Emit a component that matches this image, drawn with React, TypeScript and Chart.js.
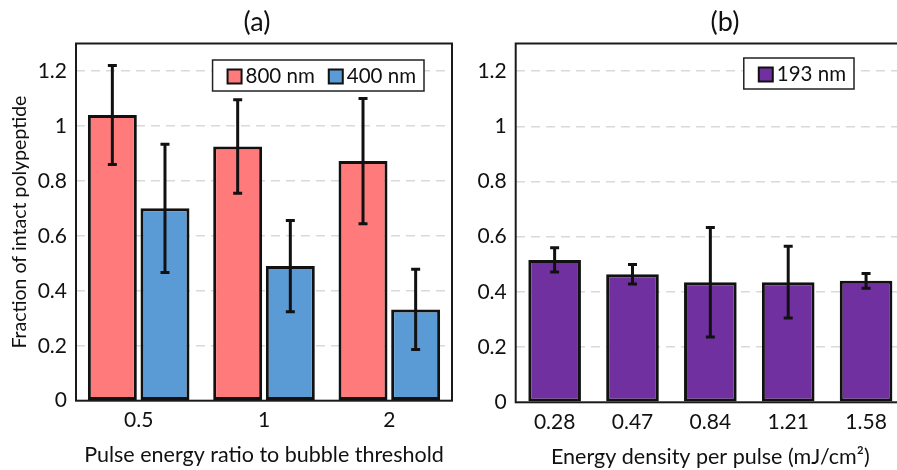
import React, { useEffect, useRef } from "react";
import { Chart, registerables } from "chart.js";
Chart.register(...registerables);

// ---- data ----
const catsA = ["0.5", "1", "2"];
const vals800 = [1.04, 0.925, 0.872];
const err800 = [0.18, 0.17, 0.228];
const vals400 = [0.7, 0.49, 0.332];
const err400 = [0.233, 0.166, 0.146];

const catsB = ["0.28", "0.47", "0.84", "1.21", "1.58"];
const vals193 = [0.516, 0.464, 0.435, 0.435, 0.44];
const err193 = [0.044, 0.035, 0.198, 0.13, 0.027];

const yTicks = [0, 0.2, 0.4, 0.6, 0.8, 1, 1.2];

const FONT = "Lato";
const TXT = "#111";

const errorBarPlugin = {
  id: "errorBars",
  afterDatasetsDraw(chart: any) {
    const ctx = chart.ctx;
    const ys = chart.scales.y;
    const a = chart.chartArea;
    ctx.save();
    ctx.strokeStyle = "#1a1a1a";
    ctx.lineWidth = 2;
    ctx.strokeRect(a.left, a.top, a.right - a.left, a.bottom - a.top);
    ctx.restore();
    chart.data.datasets.forEach((ds: any, di: number) => {
      const errs = ds.errors;
      if (!errs) return;
      const meta = chart.getDatasetMeta(di);
      meta.data.forEach((el: any, i: number) => {
        const v = ds.data[i];
        const e = errs[i];
        const x = el.x;
        const yt = ys.getPixelForValue(v + e);
        const yb = ys.getPixelForValue(v - e);
        ctx.save();
        ctx.strokeStyle = "#111";
        ctx.lineWidth = 3;
        ctx.beginPath();
        ctx.moveTo(x, yt);
        ctx.lineTo(x, yb);
        ctx.moveTo(x - 4.5, yt);
        ctx.lineTo(x + 4.5, yt);
        ctx.moveTo(x - 4.5, yb);
        ctx.lineTo(x + 4.5, yb);
        ctx.stroke();
        ctx.restore();
      });
    });
  },
};

function boxLegend(rightOff: number, topOff: number) {
  return {
    id: "boxLegend",
    afterDraw(chart: any) {
      const ctx = chart.ctx;
      const a = chart.chartArea;
      ctx.save();
      ctx.font = `20.5px ${FONT}`;
      const padL = 15,
        padR = 8,
        sw = 14,
        gapT = 4,
        gapI = 14,
        h = 31;
      const items = chart.data.datasets.map((d: any) => ({
        label: d.label,
        color: d.backgroundColor,
        w: ctx.measureText(d.label).width,
      }));
      let total = padL + padR;
      items.forEach((it: any, i: number) => {
        total += sw + gapT + it.w + (i < items.length - 1 ? gapI : 0);
      });
      const right = a.right - rightOff;
      const left = right - total;
      const top = a.top + topOff;
      ctx.fillStyle = "#fff";
      ctx.fillRect(left, top, total, h);
      ctx.strokeStyle = "#222";
      ctx.lineWidth = 1.5;
      ctx.strokeRect(left, top, total, h);
      let x = left + padL;
      const cy = top + h / 2 + 1;
      items.forEach((it: any) => {
        ctx.fillStyle = it.color;
        ctx.fillRect(x, cy - sw / 2, sw, sw);
        ctx.strokeStyle = "#111";
        ctx.lineWidth = 2;
        ctx.strokeRect(x, cy - sw / 2, sw, sw);
        ctx.fillStyle = TXT;
        ctx.textBaseline = "middle";
        ctx.textAlign = "left";
        ctx.fillText(it.label, x + sw + gapT, cy);
        x += sw + gapT + it.w + gapI;
      });
      ctx.restore();
    },
  };
}

function panelTitle(text: string, cx: number, cy: number) {
  return {
    id: "panelTitle",
    afterDraw(chart: any) {
      const ctx = chart.ctx;
      ctx.save();
      ctx.font = `27px ${FONT}`;
      ctx.fillStyle = TXT;
      ctx.textAlign = "center";
      ctx.textBaseline = "middle";
      ctx.fillText(text, cx, cy);
      ctx.restore();
    },
  };
}

function yScale(width: number, title?: string) {
  return {
    min: 0,
    max: 1.3,
    afterBuildTicks: (s: any) => {
      s.ticks = yTicks.map((v) => ({ value: v }));
    },
    grid: {
      color: (c: any) => (c.tick && c.tick.value === 0 ? "rgba(0,0,0,0)" : "#D9D9D9"),
      lineWidth: 1.5,
      drawTicks: false,
    },
    border: { display: false, dash: [9, 6] },
    ticks: {
      font: { family: FONT, size: 21 },
      color: TXT,
      padding: 9,
      callback: (v: any) => String(Number(v)),
    },
    title: title
      ? {
          display: true,
          text: title,
          font: { family: FONT, size: 19.5 },
          color: TXT,
          padding: { top: 8, bottom: 0 },
        }
      : { display: false },
    afterFit: (s: any) => {
      s.width = width;
    },
  };
}

function xScale(height: number, title: string, pb: number) {
  return {
    grid: { display: false, drawTicks: false },
    border: { display: false },
    ticks: { font: { family: FONT, size: 21 }, color: TXT, padding: 7 },
    title: {
      display: true,
      text: title,
      font: { family: FONT, size: 21.5 },
      color: TXT,
      padding: { top: 0, bottom: pb },
    },
    afterFit: (s: any) => {
      s.height = height;
    },
  };
}

export default function App() {
  const refA = useRef<HTMLCanvasElement>(null);
  const refB = useRef<HTMLCanvasElement>(null);

  useEffect(() => {
    const chartA = new Chart(refA.current as HTMLCanvasElement, {
      type: "bar",
      data: {
        labels: catsA,
        datasets: [
          {
            label: "800 nm",
            data: vals800,
            errors: err800,
            backgroundColor: "#FF7A7A",
            borderColor: "#111",
            borderWidth: 3,
            borderSkipped: false,
          } as any,
          {
            label: "400 nm",
            data: vals400,
            errors: err400,
            backgroundColor: "#5B9BD5",
            borderColor: "#111",
            borderWidth: 3,
            borderSkipped: false,
          } as any,
        ],
      },
      options: {
        responsive: false,
        animation: false,
        devicePixelRatio: 1,
        layout: { padding: { left: 0, right: 4, top: 43.5, bottom: 0 } },
        datasets: { bar: { categoryPercentage: 0.84, barPercentage: 0.93 } },
        plugins: { legend: { display: false }, tooltip: { enabled: false } },
        scales: {
          x: xScale(69.3, "Pulse energy ratio to bubble threshold", 2),
          y: yScale(76, "Fraction of intact polypeptide"),
        } as any,
      },
      plugins: [errorBarPlugin, boxLegend(28, 16.5), panelTitle("(a)", 257, 22)],
    });

    const chartB = new Chart(refB.current as HTMLCanvasElement, {
      type: "bar",
      data: {
        labels: catsB,
        datasets: [
          {
            label: "193 nm",
            data: vals193,
            errors: err193,
            backgroundColor: "#7030A0",
            borderColor: "#111",
            borderWidth: 3,
            borderSkipped: false,
          } as any,
        ],
      },
      options: {
        responsive: false,
        animation: false,
        devicePixelRatio: 1,
        layout: { padding: { left: 0, right: 3, top: 43.5, bottom: 0 } },
        datasets: { bar: { categoryPercentage: 0.8, barPercentage: 0.845 } },
        plugins: { legend: { display: false }, tooltip: { enabled: false } },
        scales: {
          x: xScale(67.7, "Energy density per pulse (mJ/cm²)", 0),
          y: yScale(57.7),
        } as any,
      },
      plugins: [errorBarPlugin, boxLegend(51, 14.5), panelTitle("(b)", 267, 22)],
    });

    return () => {
      chartA.destroy();
      chartB.destroy();
    };
  }, []);

  return (
    <div
      style={{
        position: "fixed",
        left: 0,
        top: 0,
        width: 897,
        height: 470,
        overflow: "hidden",
        background: "#fff",
      }}
    >
      <canvas
        ref={refA}
        width={456}
        height={470}
        style={{ position: "absolute", left: 0, top: 0, width: 456, height: 470, display: "block" }}
      />
      <canvas
        ref={refB}
        width={450}
        height={470}
        style={{ position: "absolute", left: 458, top: 0, width: 450, height: 470, display: "block" }}
      />
    </div>
  );
}
